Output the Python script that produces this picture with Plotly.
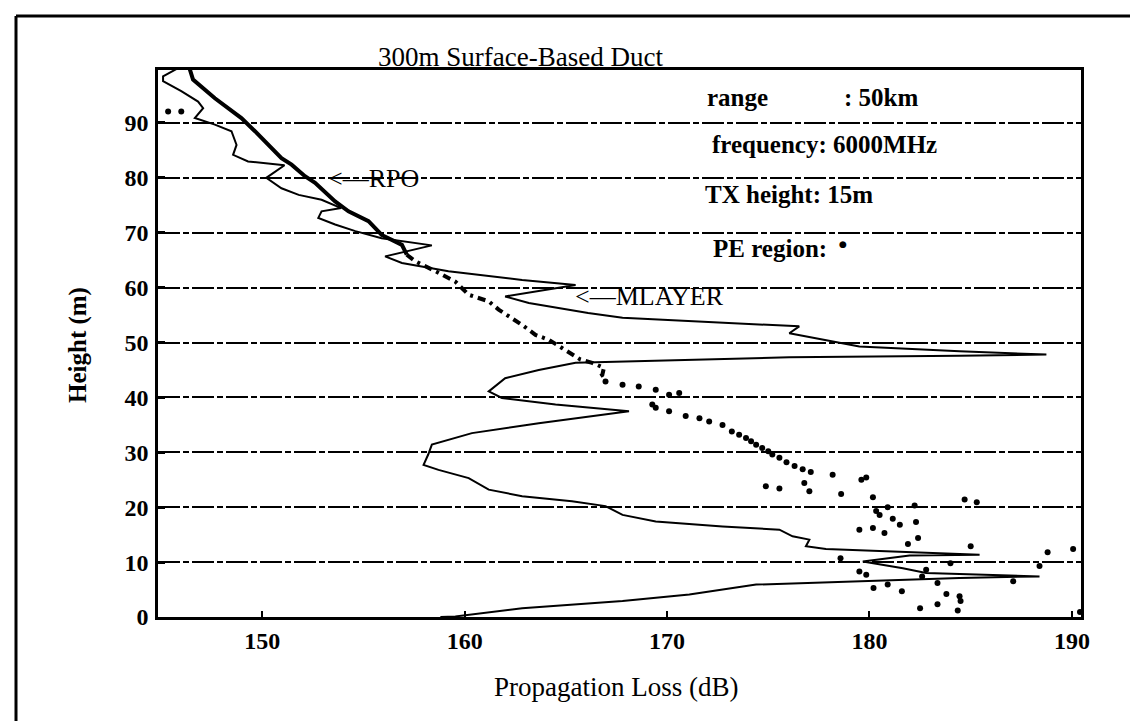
import plotly.graph_objects as go

# ---------------- data ----------------
mlayer_loss = [145.75, 145.1, 145.1, 146.0, 146.83, 147.08, 146.67, 147.66, 148.48, 148.73,
               148.56, 149.3, 151.1, 150.2, 150.95, 151.8, 152.93, 153.9, 152.93, 152.77,
               153.6, 154.6, 155.9, 158.38, 156.07, 156.9, 159.2, 162.84, 165.48, 162.0,
               163.17, 166.1, 167.8, 174.55, 176.53, 176.04, 179.5, 184.45, 188.74, 184.45,
               176.04, 165.48, 163.66, 162.0, 161.19, 161.84, 164.49, 168.12, 163.66, 160.36,
               158.38, 158.2, 157.97, 158.71, 160.2, 161.19, 162.84, 165.3, 166.96, 167.8,
               169.44, 172.74, 175.55, 176.2, 177.03, 176.86, 177.85, 185.44, 181.98, 179.67,
               181.65, 182.8, 188.4, 184.45, 176.04, 174.4, 171.1, 167.8, 162.84, 159.54, 158.8]
mlayer_height = [99.8, 98.5, 97.6, 95.8, 93.9, 92.7, 90.9, 89.7, 88.5, 86.0,
                 84.2, 83.0, 82.3, 80.0, 78.1, 76.9, 76.0, 74.5, 73.9, 72.7,
                 71.5, 70.3, 69.0, 67.7, 65.7, 64.5, 63.0, 61.4, 60.5, 58.4,
                 57.2, 55.4, 54.5, 53.2, 52.95, 51.7, 49.3, 48.4, 47.8, 47.6,
                 47.3, 46.3, 45.0, 43.5, 41.1, 39.9, 38.7, 37.5, 35.3, 33.5,
                 31.4, 29.6, 27.7, 26.8, 25.3, 23.2, 22.0, 21.1, 20.2, 18.6,
                 17.4, 16.5, 15.9, 14.7, 14.1, 12.9, 12.4, 11.35, 11.2, 10.1,
                 8.9, 8.0, 7.4, 7.1, 6.2, 5.9, 4.1, 2.9, 1.6, 0.1, 0.0]

rpo_loss = [146.42, 146.58, 147.66, 148.32, 148.97, 149.64, 150.3, 150.95, 151.45, 152.11,
            152.61, 153.18, 153.6, 154.26, 155.25, 155.9, 156.9, 157.14, 157.56, 158.55,
            159.54, 160.2, 161.19, 161.68, 162.18, 162.84, 163.5, 164.16, 164.81, 165.31,
            165.72, 166.3, 166.88, 166.8, 166.55]
rpo_height = [99.8, 97.9, 94.5, 92.7, 90.9, 88.5, 86.0, 83.6, 82.4, 80.3,
              79.1, 77.2, 75.7, 73.9, 72.1, 69.6, 67.8, 66.0, 64.8, 63.0,
              61.1, 58.7, 57.5, 56.0, 54.8, 53.2, 51.4, 50.5, 49.0, 47.8,
              46.9, 46.3, 45.4, 44.1, 43.5]

pe_loss = [145.35, 146.0,
           166.96, 167.8, 168.6, 169.44, 170.6, 170.1, 169.27, 169.44, 170.1, 170.92, 171.6,
           172.08, 172.74, 173.2, 173.56, 173.9, 174.15, 174.4, 174.7, 175.0, 175.2, 175.55,
           175.9, 176.3, 176.7, 177.1, 178.18, 179.6, 179.84,
           174.88, 175.55, 176.78, 177.03, 178.6, 180.17, 180.33, 180.5, 180.9, 181.15, 181.5,
           182.23, 182.3, 182.4, 181.9, 179.5, 180.17, 180.74, 185.0, 184.7, 185.3, 188.8,
           190.06, 188.4, 178.57, 184.0, 179.5, 179.84, 182.8, 182.6, 183.36, 180.2, 180.9,
           181.6, 183.8, 184.45, 184.5, 183.36, 182.5, 184.36, 187.1, 190.4]
pe_height = [92.1, 92.1,
             42.9, 42.3, 42.0, 41.4, 40.8, 40.5, 38.7, 38.1, 37.5, 36.6, 36.2,
             35.6, 35.0, 33.8, 33.2, 32.6, 32.0, 31.4, 30.8, 30.2, 29.6, 29.0,
             28.2, 27.5, 26.9, 26.4, 25.9, 25.0, 25.4,
             23.8, 23.4, 24.4, 22.9, 22.4, 21.8, 19.3, 18.6, 20.0, 17.9, 16.8,
             20.3, 17.3, 14.4, 13.3, 15.9, 16.2, 15.3, 12.9, 21.4, 20.9, 11.8,
             12.4, 9.3, 10.7, 9.8, 8.3, 7.7, 8.6, 7.4, 6.2, 5.3, 5.9,
             4.7, 4.2, 3.8, 2.9, 2.3, 1.6, 1.2, 6.5, 0.9]

x_ticks = [150, 160, 170, 180, 190]
y_ticks = [0, 10, 20, 30, 40, 50, 60, 70, 80, 90]

info_lines = ["frequency: 6000MHz", "TX height: 15m"]

# ---------------- figure ----------------
FONT = "Liberation Serif, Times New Roman, serif"
W, H = 1138, 721
L, R, T, B = 150, 65, 62, 112
PW, PH = W - L - R, H - T - B


def px(xp):
    return (xp - L) / PW


def py(yp):
    return (H - B - yp) / PH


split = next(i for i, h in enumerate(rpo_height) if h <= 66.0)

fig = go.Figure()
fig.add_trace(go.Scatter(x=mlayer_loss, y=mlayer_height, mode="lines",
                         line=dict(color="black", width=2), hoverinfo="skip", showlegend=False))
fig.add_trace(go.Scatter(x=rpo_loss[:split + 1], y=rpo_height[:split + 1], mode="lines",
                         line=dict(color="black", width=4), hoverinfo="skip", showlegend=False))
fig.add_trace(go.Scatter(x=rpo_loss[split:], y=rpo_height[split:], mode="lines",
                         line=dict(color="black", width=4, dash="8px,5px,3px,5px"),
                         hoverinfo="skip", showlegend=False))
fig.add_trace(go.Scatter(x=pe_loss, y=pe_height, mode="markers",
                         marker=dict(color="black", size=6), cliponaxis=False,
                         hoverinfo="skip", showlegend=False))


def note(xp, yp, text, size=26, anchor="left", weight="normal", angle=0, family=FONT):
    return dict(x=px(xp), y=py(yp), xref="paper", yref="paper", xanchor=anchor, yanchor="middle",
                text=text, showarrow=False, textangle=angle,
                font=dict(family=family, size=size, color="black", weight=weight))


ann = [
    note(368, 49, "300m Surface-Based Duct", size=27),
    note(697, 89, "range", size=25, weight="bold"),
    note(834, 89, ": 50km", size=25, weight="bold"),
    note(702, 136, info_lines[0], size=25, weight="bold"),
    note(695, 186, info_lines[1], size=25, weight="bold"),
    note(703, 240, "PE region:", size=25, weight="bold"),
    note(835, 236, "●", size=9, anchor="center", family="DejaVu Sans"),
    note(318, 170, "<—RPO", size=26),
    note(565, 288, "<—MLAYER", size=26),
    note(70, 337, "Height (m)", size=25, anchor="center", weight="bold", angle=-90),
    note(608, 679, "Propagation Loss (dB)", size=27, anchor="center"),
]

shapes = [
    dict(type="line", xref="paper", yref="paper", x0=px(8), x1=px(1145), y0=py(8), y1=py(8),
         line=dict(color="black", width=3)),
    dict(type="line", xref="paper", yref="paper", x0=px(8), x1=px(8), y0=py(8), y1=py(730),
         line=dict(color="black", width=3)),
]

fig.update_layout(
    width=W, height=H, margin=dict(l=L, r=R, t=T, b=B, pad=0),
    paper_bgcolor="white", plot_bgcolor="white",
    annotations=ann, shapes=shapes,
    xaxis=dict(range=[144.85, 190.45], tickvals=x_ticks, ticktext=[str(v) for v in x_ticks],
               showgrid=False, zeroline=False, showline=True, linecolor="black", linewidth=2.5,
               mirror=True, ticks="inside", ticklen=6, tickwidth=2, tickcolor="black",
               tickfont=dict(family=FONT, size=24, color="black", weight="bold")),
    yaxis=dict(range=[0, 99.65], tickvals=y_ticks, ticktext=[str(v) for v in y_ticks],
               showgrid=True, gridcolor="black", gridwidth=1.5, griddash="22px,3px,6px,3px",
               zeroline=False, showline=True, linecolor="black", linewidth=2.5,
               mirror=True, ticks="inside", ticklen=7, tickwidth=2.5, tickcolor="black",
               ticklabelstandoff=2,
               tickfont=dict(family=FONT, size=24, color="black", weight="bold")),
)

fig.write_html("out.html")
